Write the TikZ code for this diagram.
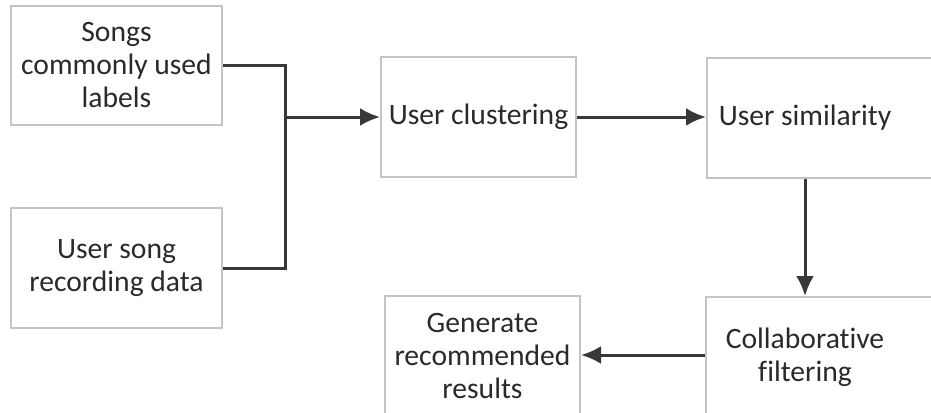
\documentclass[tikz,border=0pt]{standalone}
\usepackage{fontspec}
\setmainfont{Carlito}[Ligatures=NoCommon]
\usetikzlibrary{arrows.meta, positioning}
\usepackage{xcolor}
\definecolor{boxgray}{HTML}{C4C4C4}
\definecolor{linegray}{HTML}{383838}
\definecolor{textgray}{HTML}{2A2A2A}

\begin{document}
\begin{tikzpicture}[
x=0.5pt, y=-0.5pt,
box/.style={draw=boxgray,
line width=1pt,
rectangle,
minimum width=97.5pt,
minimum height=60pt,
text=textgray,
font=\fontsize{14.8}{16.5}\selectfont,
align=center},
lbl/.style={text=textgray,
font=\fontsize{14.8}{16.5}\selectfont,
align=center},
line/.style={draw=linegray, line width=1.5pt},
arrow/.style={line, -{Latex[length=10pt, width=9pt]}} ]

\useasboundingbox (0,0) rectangle (931,412);

\node[box, minimum width=105.5pt, minimum height=59.5pt] (labels) at (116.5,65.5) {Songs\\commonly used\\labels};
\node[box, minimum width=105.5pt] (record) at (116.5,268) {User song\\recording data};
\node[box] (cluster) at (478.5,117) {User clustering};
\node[box, minimum width=120pt, anchor=north west,
label={[lbl, name=simtxt, xshift=-11pt]center:User similarity}] (sim) at (706,57) {};
\node[box, minimum width=120pt, anchor=north west,
label={[lbl, name=filtxt, xshift=-10.5pt]center:Collaborative\\filtering}] (filter) at (705,296) {};
\node[box] (result) at (482.5,356) {Generate\\recommended\\results};

\coordinate (merge) at (285,117);

\draw[line] (labels.east) -| (merge) |- (record.east);
\draw[arrow] (merge) -- (cluster.west);
\draw[arrow] (cluster) -- (sim.west |- cluster);
\draw[arrow] (sim.south -| simtxt) -- (filter.north -| simtxt);
\draw[arrow] (filter.west |- 0,355) -- (result.east |- 0,355);

\end{tikzpicture}
\end{document}
